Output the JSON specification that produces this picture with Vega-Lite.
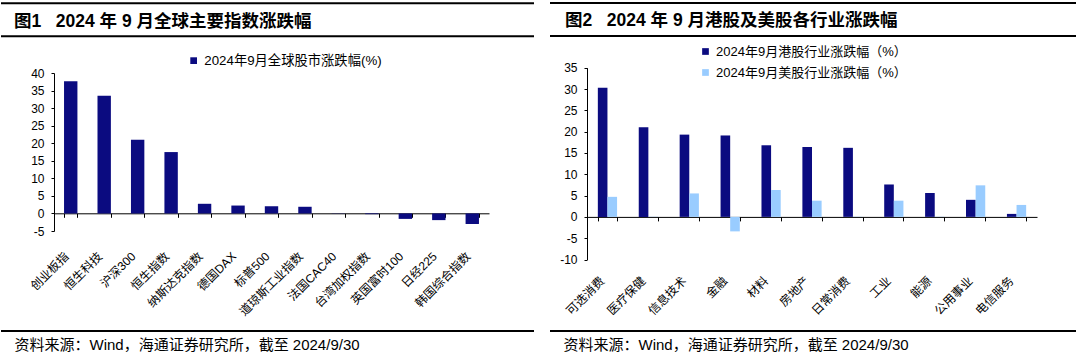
{
  "$schema": "https://vega.github.io/schema/vega-lite/v6.json",
  "background": "white",
  "padding": {"left": 0, "top": 1, "right": 0, "bottom": 0},
  "spacing": 14,
  "resolve": {"scale": {"color": "independent"}, "legend": {"color": "independent"}},
  "config": {
    "view": {"stroke": null},
    "font": "Liberation Sans, Noto Sans CJK SC",
    "axis": {
      "labelFont": "Liberation Sans, Noto Sans CJK SC",
      "titleFont": "Liberation Sans, Noto Sans CJK SC",
      "labelColor": "#000",
      "titleColor": "#000",
      "domainColor": "#000",
      "tickColor": "#000",
      "labelOverlap": false,
      "grid": false
    },
    "legend": {"labelFont": "Liberation Sans, Noto Sans CJK SC", "labelColor": "#000"},
    "title": {"font": "Liberation Sans, Noto Sans CJK SC", "color": "#000"}
  },
  "hconcat": [
    {
      "width": 533,
      "height": 328,
      "title": {"text": "图1\u00a0\u00a0\u00a02024 年 9 月全球主要指数涨跌幅", "anchor": "start", "frame": "group", "offset": -28, "dx": 13, "fontSize": 17.5, "fontWeight": "bold"},
      "layer": [
        {
          "data": {"values": [
            {"name": "创业板指", "value": 37.65, "series": "2024年9月全球股市涨跌幅(%)"},
            {"name": "恒生科技", "value": 33.5, "series": "2024年9月全球股市涨跌幅(%)"},
            {"name": "沪深300", "value": 20.97, "series": "2024年9月全球股市涨跌幅(%)"},
            {"name": "恒生指数", "value": 17.48, "series": "2024年9月全球股市涨跌幅(%)"},
            {"name": "纳斯达克指数", "value": 2.75, "series": "2024年9月全球股市涨跌幅(%)"},
            {"name": "德国DAX", "value": 2.25, "series": "2024年9月全球股市涨跌幅(%)"},
            {"name": "标普500", "value": 2.05, "series": "2024年9月全球股市涨跌幅(%)"},
            {"name": "道琼斯工业指数", "value": 1.9, "series": "2024年9月全球股市涨跌幅(%)"},
            {"name": "法国CAC40", "value": 0.06, "series": "2024年9月全球股市涨跌幅(%)"},
            {"name": "台湾加权指数", "value": -0.2, "series": "2024年9月全球股市涨跌幅(%)"},
            {"name": "英国富时100", "value": -1.55, "series": "2024年9月全球股市涨跌幅(%)"},
            {"name": "日经225", "value": -1.9, "series": "2024年9月全球股市涨跌幅(%)"},
            {"name": "韩国综合指数", "value": -3.0, "series": "2024年9月全球股市涨跌幅(%)"}
          ]},
          "mark": {"type": "bar"},
          "encoding": {
            "x": {
              "field": "name", "type": "nominal", "sort": null,
              "scale": {"range": [53, 488], "paddingInner": 0.6, "paddingOuter": 0.3},
              "axis": {
                "orient": "bottom", "offset": -117.7, "tickBand": "extent", "tickSize": 4,
                "labelAngle": -45, "labelPadding": 33, "labelOffset": -8, "labelFontSize": 12, "labelOverlap": false,
                "title": "资料来源：Wind，海通证券研究所，截至 2024/9/30",
                "titleX": 13, "titleY": 130.7, "titleAlign": "left", "titleAnchor": "start",
                "titleBaseline": "middle", "titleFontSize": 15, "titleFontWeight": "normal"
              }
            },
            "y": {
              "field": "value", "type": "quantitative",
              "scale": {"domain": [-5, 40], "range": [228, 70], "nice": false, "zero": false},
              "axis": {"orient": "left", "offset": -53, "values": [-5, 0, 5, 10, 15, 20, 25, 30, 35, 40], "labelExpr": "replace(datum.label, '−', '-')", "tickSize": 3, "labelPadding": 7, "labelFontSize": 12, "labelOverlap": false, "title": null}
            },
            "color": {
              "field": "series", "type": "nominal",
              "scale": {"range": ["#0b0b80"]},
              "legend": {"orient": "none", "legendX": 186, "legendY": 51, "title": null, "symbolType": "square", "symbolSize": 45, "labelFontSize": 13.3, "labelOffset": 4, "symbolStrokeWidth": 0, "labelLimit": 400}
            }
          }
        },
        {"data": {"values": [{}]}, "mark": {"type": "rule", "color": "#000", "strokeWidth": 2}, "encoding": {"y": {"datum": 59.9, "type": "quantitative", "axis": {"orient": "left", "offset": -53, "values": [-5, 0, 5, 10, 15, 20, 25, 30, 35, 40], "labelExpr": "replace(datum.label, '−', '-')", "tickSize": 3, "labelPadding": 7, "labelFontSize": 12, "labelOverlap": false, "title": null}}}},
        {"data": {"values": [{}]}, "mark": {"type": "rule", "color": "#000", "strokeWidth": 2}, "encoding": {"y": {"datum": 50.5, "type": "quantitative", "axis": {"orient": "left", "offset": -53, "values": [-5, 0, 5, 10, 15, 20, 25, 30, 35, 40], "labelExpr": "replace(datum.label, '−', '-')", "tickSize": 3, "labelPadding": 7, "labelFontSize": 12, "labelOverlap": false, "title": null}}}},
        {"data": {"values": [{}]}, "mark": {"type": "rule", "color": "#000", "strokeWidth": 2}, "encoding": {"y": {"datum": -33.5, "type": "quantitative", "axis": {"orient": "left", "offset": -53, "values": [-5, 0, 5, 10, 15, 20, 25, 30, 35, 40], "labelExpr": "replace(datum.label, '−', '-')", "tickSize": 3, "labelPadding": 7, "labelFontSize": 12, "labelOverlap": false, "title": null}}}}
      ]
    },
    {
      "width": 526,
      "height": 328,
      "title": {"text": "图2\u00a0\u00a0\u00a02024 年 9 月港股及美股各行业涨跌幅", "anchor": "start", "frame": "group", "offset": -28, "dx": 15, "fontSize": 17.5, "fontWeight": "bold"},
      "layer": [
        {
          "data": {"values": [
            {"sector": "可选消费", "series": "2024年9月港股行业涨跌幅（%）", "value": 30.3},
            {"sector": "可选消费", "series": "2024年9月美股行业涨跌幅（%）", "value": 4.7},
            {"sector": "医疗保健", "series": "2024年9月港股行业涨跌幅（%）", "value": 21.0},
            {"sector": "医疗保健", "series": "2024年9月美股行业涨跌幅（%）", "value": 0.05},
            {"sector": "信息技术", "series": "2024年9月港股行业涨跌幅（%）", "value": 19.3},
            {"sector": "信息技术", "series": "2024年9月美股行业涨跌幅（%）", "value": 5.5},
            {"sector": "金融", "series": "2024年9月港股行业涨跌幅（%）", "value": 19.1},
            {"sector": "金融", "series": "2024年9月美股行业涨跌幅（%）", "value": -3.4},
            {"sector": "材料", "series": "2024年9月港股行业涨跌幅（%）", "value": 16.8},
            {"sector": "材料", "series": "2024年9月美股行业涨跌幅（%）", "value": 6.3},
            {"sector": "房地产", "series": "2024年9月港股行业涨跌幅（%）", "value": 16.4},
            {"sector": "房地产", "series": "2024年9月美股行业涨跌幅（%）", "value": 3.8},
            {"sector": "日常消费", "series": "2024年9月港股行业涨跌幅（%）", "value": 16.2},
            {"sector": "日常消费", "series": "2024年9月美股行业涨跌幅（%）", "value": 0.05},
            {"sector": "工业", "series": "2024年9月港股行业涨跌幅（%）", "value": 7.6},
            {"sector": "工业", "series": "2024年9月美股行业涨跌幅（%）", "value": 3.8},
            {"sector": "能源", "series": "2024年9月港股行业涨跌幅（%）", "value": 5.6},
            {"sector": "能源", "series": "2024年9月美股行业涨跌幅（%）", "value": 0.05},
            {"sector": "公用事业", "series": "2024年9月港股行业涨跌幅（%）", "value": 4.0},
            {"sector": "公用事业", "series": "2024年9月美股行业涨跌幅（%）", "value": 7.4},
            {"sector": "电信服务", "series": "2024年9月港股行业涨跌幅（%）", "value": 0.7},
            {"sector": "电信服务", "series": "2024年9月美股行业涨跌幅（%）", "value": 2.8}
          ]},
          "mark": {"type": "bar"},
          "encoding": {
            "x": {
              "field": "sector", "type": "nominal", "sort": null,
              "scale": {"range": [37, 487], "paddingInner": 0.53, "paddingOuter": 0.265},
              "axis": {
                "orient": "bottom", "offset": -114.1, "tickBand": "extent", "tickSize": 4,
                "labelAngle": -45, "labelPadding": 54, "labelOffset": -9, "labelFontSize": 12, "labelOverlap": false,
                "title": "资料来源：Wind，海通证券研究所，截至 2024/9/30",
                "titleX": 13, "titleY": 127.1, "titleAlign": "left", "titleAnchor": "start",
                "titleBaseline": "middle", "titleFontSize": 15, "titleFontWeight": "normal"
              }
            },
            "xOffset": {"field": "series", "type": "nominal", "sort": null, "scale": {"paddingInner": 0, "paddingOuter": 0}},
            "y": {
              "field": "value", "type": "quantitative",
              "scale": {"domain": [-10, 35], "range": [256.5, 64.7], "nice": false, "zero": false},
              "axis": {"orient": "left", "offset": -37, "values": [-10, -5, 0, 5, 10, 15, 20, 25, 30, 35], "labelExpr": "replace(datum.label, '−', '-')", "tickSize": 3, "labelPadding": 7, "labelFontSize": 12, "labelOverlap": false, "title": null}
            },
            "color": {
              "field": "series", "type": "nominal", "sort": null,
              "scale": {"domain": ["2024年9月港股行业涨跌幅（%）", "2024年9月美股行业涨跌幅（%）"], "range": ["#0b0b80", "#99ccff"]},
              "legend": {"orient": "none", "legendX": 149, "legendY": 42, "title": null, "symbolType": "square", "symbolSize": 45, "labelFontSize": 13, "labelOffset": 4, "rowPadding": 7, "symbolStrokeWidth": 0, "labelLimit": 400}
            }
          }
        },
        {"data": {"values": [{}]}, "mark": {"type": "rule", "color": "#000", "strokeWidth": 2}, "encoding": {"y": {"datum": 50.19, "type": "quantitative", "axis": {"orient": "left", "offset": -37, "values": [-10, -5, 0, 5, 10, 15, 20, 25, 30, 35], "labelExpr": "replace(datum.label, '−', '-')", "tickSize": 3, "labelPadding": 7, "labelFontSize": 12, "labelOverlap": false, "title": null}}}},
        {"data": {"values": [{}]}, "mark": {"type": "rule", "color": "#000", "strokeWidth": 2}, "encoding": {"y": {"datum": 42.45, "type": "quantitative", "axis": {"orient": "left", "offset": -37, "values": [-10, -5, 0, 5, 10, 15, 20, 25, 30, 35], "labelExpr": "replace(datum.label, '−', '-')", "tickSize": 3, "labelPadding": 7, "labelFontSize": 12, "labelOverlap": false, "title": null}}}},
        {"data": {"values": [{}]}, "mark": {"type": "rule", "color": "#000", "strokeWidth": 2}, "encoding": {"y": {"datum": -26.77, "type": "quantitative", "axis": {"orient": "left", "offset": -37, "values": [-10, -5, 0, 5, 10, 15, 20, 25, 30, 35], "labelExpr": "replace(datum.label, '−', '-')", "tickSize": 3, "labelPadding": 7, "labelFontSize": 12, "labelOverlap": false, "title": null}}}}
      ]
    }
  ]
}
